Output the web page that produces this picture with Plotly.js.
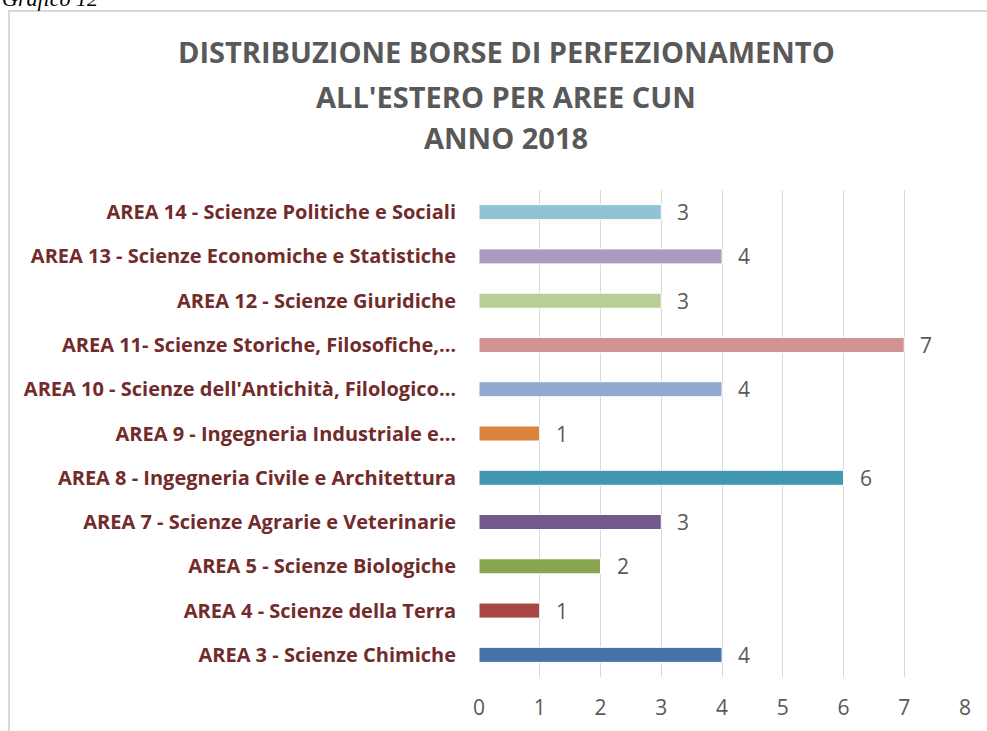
<!DOCTYPE html>
<html>
<head>
<meta charset="utf-8">
<script src="https://cdn.plot.ly/plotly-3.0.1.min.js"></script>
<style>
html,body{margin:0;padding:0;background:#fff;overflow:hidden;}
#chart{width:987px;height:731px;}
</style>
</head>
<body>
<div id="chart"></div>
<script>
// Data (bottom to top)
const categories = [
  "AREA 3 - Scienze Chimiche",
  "AREA 4 - Scienze della Terra",
  "AREA 5 - Scienze Biologiche",
  "AREA 7 - Scienze Agrarie e Veterinarie",
  "AREA 8 - Ingegneria Civile e Architettura",
  "AREA 9 - Ingegneria Industriale e…",
  "AREA 10 - Scienze dell'Antichità, Filologico…",
  "AREA 11- Scienze Storiche, Filosofiche,…",
  "AREA 12 - Scienze Giuridiche",
  "AREA 13 - Scienze Economiche e Statistiche",
  "AREA 14 - Scienze Politiche e Sociali"
];
const values = [4, 1, 2, 3, 6, 1, 4, 7, 3, 4, 3];
const barColors = ["#4572A7", "#AA4643", "#89A54E", "#71588F", "#4198AF", "#DB843D",
                   "#93A9CF", "#D19392", "#B9CD96", "#A99BBD", "#92C3D4"];
const xTicks = [0, 1, 2, 3, 4, 5, 6, 7, 8];
const titleLines = ["DISTRIBUZIONE BORSE DI PERFEZIONAMENTO", "ALL'ESTERO PER AREE CUN", "ANNO 2018"];
const captionText = "Grafico 12";

// Layout geometry (pixels)
const W = 987, H = 731;
const L = 479, R = 965, T = 190, B = 677;
const pw = R - L, ph = B - T;
const px = x => (x - L) / pw;
const py = y => (B - y) / ph;
const FONT = "'Open Sans', Lato, sans-serif";

const trace = {
  type: "bar",
  orientation: "h",
  y: categories,
  x: values,
  width: 0.34,
  marker: {color: barColors, line: {color: "#FFFFFF", width: 1}},
  hoverinfo: "x+y"
};

const annotations = [];
const titleY = [52, 97, 137];
titleLines.forEach((t, i) => {
  annotations.push({
    text: "<b>" + t + "</b>",
    xref: "paper", yref: "paper",
    x: px(506), y: py(titleY[i]),
    xanchor: "center", yanchor: "middle",
    showarrow: false,
    font: {family: FONT, size: 29, color: "#595959"}
  });
});
values.forEach((v, i) => {
  annotations.push({
    text: String(v),
    x: v, y: categories[i],
    xref: "x", yref: "y",
    xanchor: "left", yanchor: "middle",
    xshift: 14,
    showarrow: false,
    font: {family: FONT, size: 21, color: "#595959"}
  });
});
annotations.push({
  text: "<i>" + captionText + "</i>",
  xref: "paper", yref: "paper",
  x: px(0), y: py(-1),
  xanchor: "left", yanchor: "middle",
  showarrow: false,
  font: {family: "'Liberation Serif', serif", size: 22, color: "#000000"}
});

const layout = {
  width: W, height: H,
  margin: {l: L, r: W - R, t: T, b: H - B, pad: 0},
  paper_bgcolor: "#FFFFFF",
  plot_bgcolor: "#FFFFFF",
  showlegend: false,
  xaxis: {
    range: [0, 8],
    tickvals: xTicks,
    showgrid: true,
    gridcolor: "#D9D9D9",
    gridwidth: 1,
    zeroline: false,
    showline: false,
    ticks: "",
    ticklabelstandoff: 16,
    tickfont: {family: FONT, size: 21, color: "#595959"},
    fixedrange: true
  },
  yaxis: {
    type: "category",
    categoryorder: "array",
    categoryarray: categories,
    showgrid: false,
    zeroline: false,
    showline: false,
    ticks: "",
    ticklabelstandoff: 22,
    tickfont: {family: FONT, size: 20, color: "#722B2B", weight: "bold"},
    fixedrange: true
  },
  annotations: annotations,
  shapes: [
    {type: "line", xref: "paper", yref: "paper", x0: px(9), x1: px(9), y0: py(11), y1: py(740),
     line: {color: "#D9D9D9", width: 2}},
    {type: "line", xref: "paper", yref: "paper", x0: px(8), x1: px(1000), y0: py(11), y1: py(11),
     line: {color: "#D9D9D9", width: 2}}
  ]
};

Plotly.newPlot("chart", [trace], layout, {displayModeBar: false, staticPlot: true});
</script>
</body>
</html>
